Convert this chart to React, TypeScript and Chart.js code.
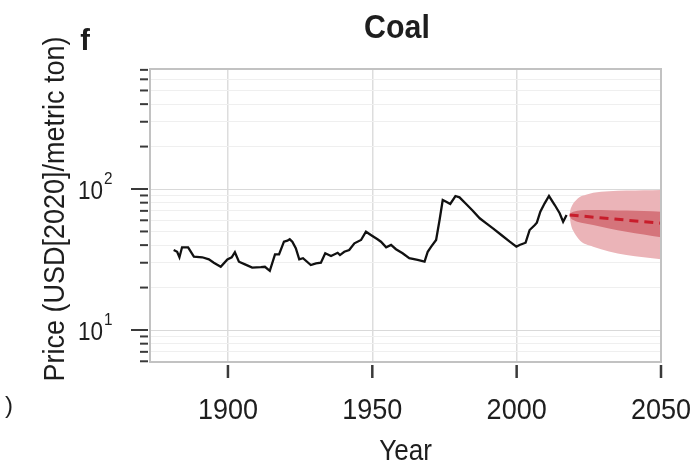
import React, { useEffect, useRef } from 'react';
import { Chart, registerables } from 'chart.js';

Chart.register(...registerables);

// ---- data ----
const histYears = [1881.2, 1882.4, 1883.2, 1884.1, 1886.2, 1888.2, 1891.1, 1893.4, 1895.1, 1897.5, 1899.8, 1901.3, 1902.4, 1903.8, 1905.9, 1908.4, 1911.4, 1912.8, 1914.5, 1916.3, 1917.7, 1919.4, 1920.6, 1921.4, 1922.3, 1923.5, 1924.7, 1926.0, 1928.7, 1930.5, 1932.2, 1933.7, 1935.7, 1938.0, 1938.8, 1940.3, 1942.0, 1943.8, 1946.1, 1947.8, 1949.5, 1951.8, 1953.0, 1954.8, 1956.5, 1958.2, 1960.5, 1962.8, 1965.7, 1968.1, 1969.2, 1970.4, 1972.1, 1973.3, 1974.4, 1975.6, 1977.0, 1978.8, 1980.2, 1982.5, 1984.8, 1987.2, 1989.5, 1991.8, 1994.7, 1997.6, 1999.9, 2001.0, 2003.1, 2004.5, 2006.3, 2007.0, 2008.2, 2009.7, 2011.2, 2013.2, 2014.9, 2016.1, 2017.3];
const histValues = [36.9, 35.9, 32.8, 38.6, 38.6, 33.1, 32.8, 31.7, 30.0, 28.1, 31.7, 32.8, 35.6, 30.5, 29.2, 27.7, 27.9, 28.1, 26.3, 34.4, 34.4, 42.3, 43.0, 44.0, 42.3, 38.0, 31.7, 32.3, 28.9, 29.7, 30.0, 35.0, 33.5, 35.3, 34.0, 35.9, 36.9, 41.2, 43.5, 49.8, 47.2, 44.0, 42.3, 38.6, 40.1, 37.4, 35.0, 32.3, 31.4, 30.5, 35.9, 39.0, 43.5, 60.3, 83.6, 81.3, 78.3, 89.2, 87.3, 78.3, 70.2, 62.0, 57.1, 52.6, 47.2, 42.3, 39.0, 40.1, 41.6, 51.2, 55.5, 57.7, 69.0, 79.2, 89.2, 77.0, 67.3, 58.6, 65.4];

const outerYears = [2018.35, 2018.6, 2019.0, 2019.6, 2020.5, 2022, 2024, 2026.5, 2032, 2038, 2044, 2050];
const outerUpper = [65.4, 71, 75, 79, 83, 88, 91, 94, 96.5, 97.5, 98, 98.5];
const outerLower = [65.4, 59, 54, 50.5, 47, 43, 40.5, 39, 36, 34, 32.8, 31.7];

const innerYears = [2018.35, 2018.8, 2019.6, 2021, 2026.5, 2032, 2038, 2044, 2050];
const innerUpper = [65.4, 67.5, 69, 70.2, 71, 70.8, 70.3, 69.7, 69];
const innerLower = [65.4, 62, 60.3, 58.5, 55.5, 52.5, 49.8, 47.6, 45.4];

const medianYears = [2018.35, 2050];
const medianValues = [65.4, 57.2];

const xTickValues = [1900, 1950, 2000, 2050];
const xTickLabels = ['1900', '1950', '2000', '2050'];
const yTickValues = [6, 7, 8, 9, 10, 20, 30, 40, 50, 60, 70, 80, 90, 100, 200, 300, 400, 500, 600, 700];
const yMajorTicks = [10, 100];
const yMajorExponents = ['1', '2'];
const xLimits = [1873, 2050];
const yLimits = [5.93, 710];

const titleText = 'Coal';
const panelLetter = 'f';
const xTitle = 'Year';
const yTitle = 'Price (USD[2020]/metric ton)';
const strayText = ')';

const FONT = '"Liberation Sans", Arial, Helvetica, sans-serif';
const TEXT = '#1e1e1e';

const pairs = (xs: number[], ys: number[]) => xs.map((x, i) => ({ x, y: ys[i] }));

function drawText(
  ctx: CanvasRenderingContext2D,
  text: string,
  x: number,
  y: number,
  font: string,
  align: CanvasTextAlign,
  sx: number,
  rotate = 0,
) {
  ctx.save();
  ctx.translate(x, y);
  if (rotate) ctx.rotate(rotate);
  ctx.scale(sx, 1);
  ctx.font = font;
  ctx.fillStyle = TEXT;
  ctx.textAlign = align;
  ctx.textBaseline = 'middle';
  ctx.fillText(text, 0, 0);
  ctx.restore();
}

export default function App() {
  const ref = useRef<HTMLCanvasElement>(null);

  useEffect(() => {
    if (!ref.current) return;

    const decor = {
      id: 'decor',
      afterDraw(chart: any) {
        const ctx: CanvasRenderingContext2D = chart.ctx;
        const a = chart.chartArea;
        const xs = chart.scales.x;
        const ys = chart.scales.y;
        ctx.save();
        // frame
        ctx.strokeStyle = '#c2c2c2';
        ctx.lineWidth = 2;
        ctx.strokeRect(a.left, a.top, a.right - a.left, a.bottom - a.top);
        // y tick marks
        ctx.strokeStyle = '#3a3a3a';
        ctx.lineWidth = 2;
        for (const v of yTickValues) {
          const py = ys.getPixelForValue(v);
          const major = yMajorTicks.includes(v);
          ctx.beginPath();
          ctx.moveTo(a.left - (major ? 19 : 10), py);
          ctx.lineTo(a.left - 2, py);
          ctx.stroke();
        }
        // x tick marks
        ctx.lineWidth = 2.5;
        for (const v of xTickValues) {
          const px = xs.getPixelForValue(v);
          ctx.beginPath();
          ctx.moveTo(px, a.bottom + 3);
          ctx.lineTo(px, a.bottom + 16);
          ctx.stroke();
        }
        ctx.restore();

        // x tick labels
        xTickValues.forEach((v, i) => {
          drawText(ctx, xTickLabels[i], xs.getPixelForValue(v), a.bottom + 49, `30px ${FONT}`, 'center', 0.9);
        });
        // y tick labels 10^k
        yMajorTicks.forEach((v, i) => {
          const py = ys.getPixelForValue(v);
          drawText(ctx, '10', a.left - 47, py + 3, `25px ${FONT}`, 'right', 0.9);
          drawText(ctx, yMajorExponents[i], a.left - 46, py - 10, `17px ${FONT}`, 'left', 0.9);
        });
        // axis titles
        drawText(ctx, xTitle, (a.left + a.right) / 2, 452, `29px ${FONT}`, 'center', 0.9);
        drawText(ctx, yTitle, 56, 209, `30px ${FONT}`, 'center', 0.9, -Math.PI / 2);
        // title + panel letter
        drawText(ctx, titleText, 397, 29, `bold 33px ${FONT}`, 'center', 0.92);
        drawText(ctx, panelLetter, 85, 42, `bold 29px ${FONT}`, 'center', 1);
        drawText(ctx, strayText, 9, 406, `24px ${FONT}`, 'center', 1);
      },
    };

    const chart = new Chart(ref.current, {
      type: 'line',
      data: {
        datasets: [
          {
            label: 'historical',
            data: pairs(histYears, histValues),
            borderColor: '#111111',
            borderWidth: 2.3,
            pointRadius: 0,
            fill: false,
            tension: 0,
          },
          {
            label: 'median',
            data: pairs(medianYears, medianValues),
            borderColor: '#c81d2b',
            borderWidth: 3,
            borderDash: [9, 6],
            pointRadius: 0,
            fill: false,
          },
          {
            label: 'inner upper',
            data: pairs(innerYears, innerUpper),
            borderWidth: 0,
            borderColor: 'rgba(0,0,0,0)',
            backgroundColor: '#d5747b',
            pointRadius: 0,
            fill: '+1',
            cubicInterpolationMode: 'monotone',
          },
          {
            label: 'inner lower',
            data: pairs(innerYears, innerLower),
            borderWidth: 0,
            borderColor: 'rgba(0,0,0,0)',
            pointRadius: 0,
            fill: false,
            cubicInterpolationMode: 'monotone',
          },
          {
            label: 'outer upper',
            data: pairs(outerYears, outerUpper),
            borderWidth: 0,
            borderColor: 'rgba(0,0,0,0)',
            backgroundColor: '#ebb4b8',
            pointRadius: 0,
            fill: '+1',
            cubicInterpolationMode: 'monotone',
          },
          {
            label: 'outer lower',
            data: pairs(outerYears, outerLower),
            borderWidth: 0,
            borderColor: 'rgba(0,0,0,0)',
            pointRadius: 0,
            fill: false,
            cubicInterpolationMode: 'monotone',
          },
        ],
      },
      options: {
        animation: false,
        responsive: false,
        maintainAspectRatio: false,
        layout: { padding: { top: 69, right: 36, left: 0, bottom: 0 } },
        plugins: {
          legend: { display: false },
          tooltip: { enabled: false },
          title: { display: false },
        },
        scales: {
          x: {
            type: 'linear',
            min: xLimits[0],
            max: xLimits[1],
            afterBuildTicks: (s: any) => {
              s.ticks = xTickValues.map((v) => ({ value: v }));
            },
            afterFit: (s: any) => {
              s.height = 104;
            },
            ticks: { display: false },
            border: { display: false },
            grid: { color: '#dddddd', lineWidth: 1.5, drawTicks: false },
          },
          y: {
            type: 'logarithmic',
            min: yLimits[0],
            max: yLimits[1],
            afterBuildTicks: (s: any) => {
              s.ticks = yTickValues.map((v) => ({ value: v }));
            },
            afterFit: (s: any) => {
              s.width = 150;
            },
            ticks: { display: false },
            border: { display: false },
            grid: {
              drawTicks: false,
              lineWidth: 1,
              color: (c: any) => (c.tick && yMajorTicks.includes(c.tick.value) ? '#d9d9d9' : '#efefef'),
            },
          },
        },
      },
      plugins: [decor],
    } as any);

    return () => chart.destroy();
  }, []);

  return (
    <div style={{ position: 'fixed', left: 0, top: 0, width: 697, height: 466, background: '#ffffff' }}>
      <canvas ref={ref} width={697} height={466} style={{ display: 'block' }} />
    </div>
  );
}
